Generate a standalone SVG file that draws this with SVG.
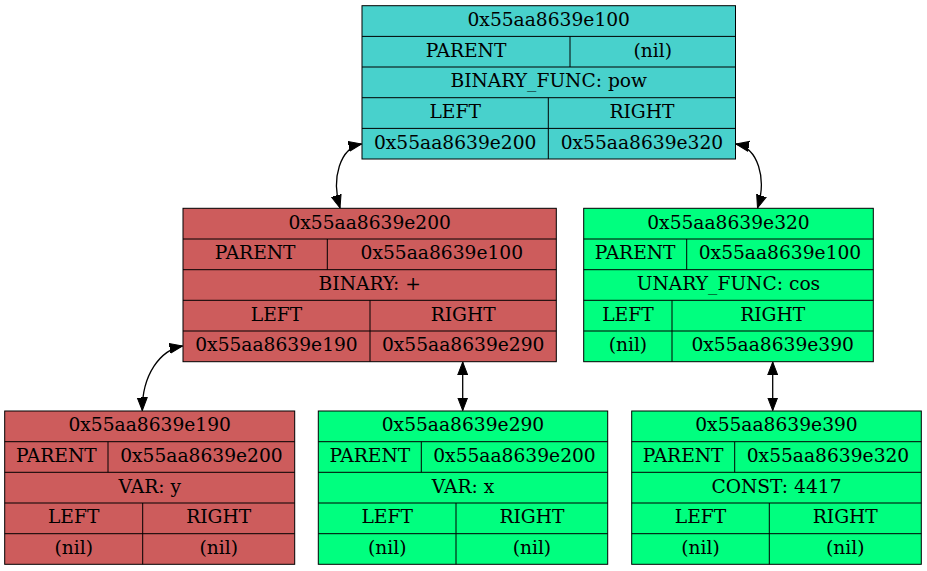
<svg xmlns="http://www.w3.org/2000/svg" width="927" height="571" viewBox="0 0 927 571">
<defs>
<style>
text{font-family:"DejaVu Serif","Liberation Serif",serif;font-size:18.67px;fill:#000;text-anchor:middle}
.box{stroke:#000;stroke-width:1}
.ln{stroke:#000;stroke-width:1;fill:none}
.root{fill:#48d1cc}
.red{fill:#cd5c5c}
.grn{fill:#00ff7f}
.edge{stroke:#000;stroke-width:1.3;fill:none;marker-start:url(#ah);marker-end:url(#ah)}
</style>
<marker id="ah" markerUnits="userSpaceOnUse" markerWidth="14" markerHeight="12" refX="13" refY="5" orient="auto-start-reverse" viewBox="0 0 14 10">
<path d="M0,0 L13,5 L0,10 Z" fill="#000" stroke="#000" stroke-width="1"/>
</marker>
</defs>
<rect width="927" height="571" fill="#fff"/>

<g id="edges">
<path class="edge" d="M361.5,144 C340,148 331,178 340,208"/>
<path class="edge" d="M736,144 C758,148 767,178 757.5,208"/>
<path class="edge" d="M182.5,346 C160,350 142,375 142.3,410.5"/>
<path class="edge" d="M462.7,362 L462.7,410.5"/>
<path class="edge" d="M772.7,362 L772.7,410.5"/>
</g>

<g id="node_e100">
<rect class="box root" x="362" y="5.7" width="373.5" height="153.3"/>
<path class="ln" d="M362,36.4H735.5M362,67H735.5M362,97.7H735.5M362,128.4H735.5M570,36.4V67M548.3,97.7V159"/>
<text x="548.75" y="26">0x55aa8639e100</text>
<text x="466" y="56.7">PARENT</text>
<text x="652.75" y="56.7">(nil)</text>
<text x="548.75" y="87.3">BINARY_FUNC: pow</text>
<text x="455.2" y="118">LEFT</text>
<text x="641.9" y="118">RIGHT</text>
<text x="455.2" y="148.7">0x55aa8639e200</text>
<text x="641.9" y="148.7">0x55aa8639e320</text>
</g>

<g id="node_e200">
<rect class="box red" x="183" y="208.3" width="373.3" height="153.4"/>
<path class="ln" d="M183,239H556.3M183,269.7H556.3M183,300.3H556.3M183,331H556.3M327.3,239V269.7M370,300.3V361.7"/>
<text x="369.7" y="228.6">0x55aa8639e200</text>
<text x="255.2" y="259.3">PARENT</text>
<text x="441.8" y="259.3">0x55aa8639e100</text>
<text x="369.7" y="290">BINARY: +</text>
<text x="276.5" y="320.6">LEFT</text>
<text x="463.2" y="320.6">RIGHT</text>
<text x="276.5" y="351.3">0x55aa8639e190</text>
<text x="463.2" y="351.3">0x55aa8639e290</text>
</g>

<g id="node_e320">
<rect class="box grn" x="583.7" y="208.3" width="289.6" height="153.4"/>
<path class="ln" d="M583.7,239H873.3M583.7,269.7H873.3M583.7,300.3H873.3M583.7,331H873.3M686.7,239V269.7M672,300.3V361.7"/>
<text x="728.5" y="228.6">0x55aa8639e320</text>
<text x="635.2" y="259.3">PARENT</text>
<text x="780" y="259.3">0x55aa8639e100</text>
<text x="728.5" y="290">UNARY_FUNC: cos</text>
<text x="627.9" y="320.6">LEFT</text>
<text x="772.7" y="320.6">RIGHT</text>
<text x="627.9" y="351.3">(nil)</text>
<text x="772.7" y="351.3">0x55aa8639e390</text>
</g>

<g id="node_e190">
<rect class="box red" x="4.7" y="411" width="290" height="153.3"/>
<path class="ln" d="M4.7,441.7H294.7M4.7,472.3H294.7M4.7,503H294.7M4.7,533.7H294.7M108,441.7V472.3M142.7,503V564.3"/>
<text x="149.7" y="431.3">0x55aa8639e190</text>
<text x="56.4" y="462">PARENT</text>
<text x="201.4" y="462">0x55aa8639e200</text>
<text x="149.7" y="492.6">VAR: y</text>
<text x="73.7" y="523.3">LEFT</text>
<text x="218.7" y="523.3">RIGHT</text>
<text x="73.7" y="554">(nil)</text>
<text x="218.7" y="554">(nil)</text>
</g>

<g id="node_e290">
<rect class="box grn" x="318.3" y="411" width="289.4" height="153.3"/>
<path class="ln" d="M318.3,441.7H607.7M318.3,472.3H607.7M318.3,503H607.7M318.3,533.7H607.7M421.3,441.7V472.3M456,503V564.3"/>
<text x="463" y="431.3">0x55aa8639e290</text>
<text x="369.8" y="462">PARENT</text>
<text x="514.5" y="462">0x55aa8639e200</text>
<text x="463" y="492.6">VAR: x</text>
<text x="387.2" y="523.3">LEFT</text>
<text x="531.9" y="523.3">RIGHT</text>
<text x="387.2" y="554">(nil)</text>
<text x="531.9" y="554">(nil)</text>
</g>

<g id="node_e390">
<rect class="box grn" x="631.7" y="411" width="289.6" height="153.3"/>
<path class="ln" d="M631.7,441.7H921.3M631.7,472.3H921.3M631.7,503H921.3M631.7,533.7H921.3M734.7,441.7V472.3M769.3,503V564.3"/>
<text x="776.5" y="431.3">0x55aa8639e390</text>
<text x="683.2" y="462">PARENT</text>
<text x="828" y="462">0x55aa8639e320</text>
<text x="776.5" y="492.6">CONST: 4417</text>
<text x="700.5" y="523.3">LEFT</text>
<text x="845.3" y="523.3">RIGHT</text>
<text x="700.5" y="554">(nil)</text>
<text x="845.3" y="554">(nil)</text>
</g>
</svg>
